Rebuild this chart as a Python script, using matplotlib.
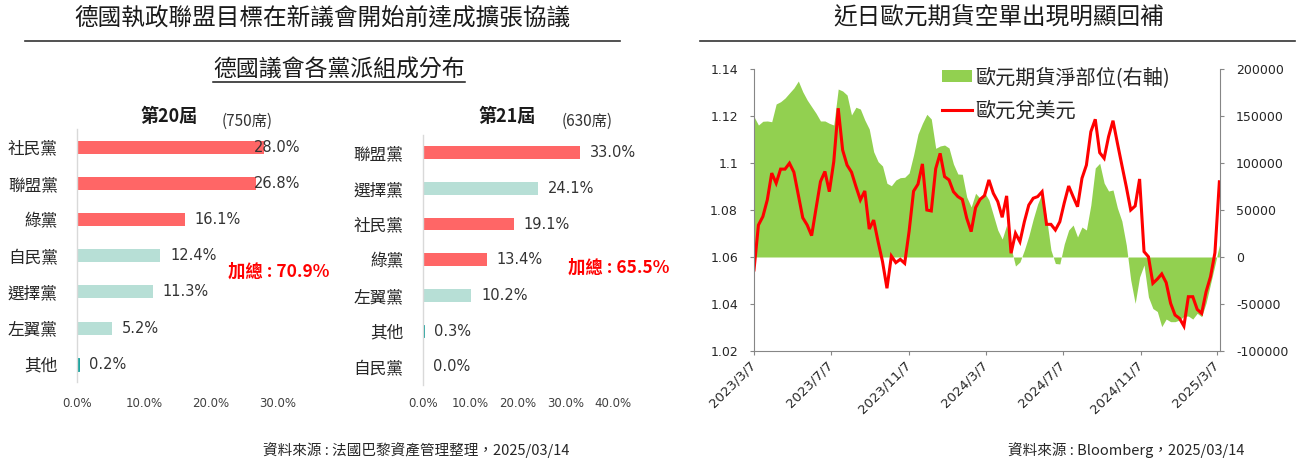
import matplotlib
matplotlib.use('Agg')
import matplotlib.pyplot as plt
from matplotlib.lines import Line2D
from matplotlib.patches import Patch
import numpy as np
import pandas as pd

plt.rcParams['font.family'] = ['Noto Sans CJK TC', 'DejaVu Sans']
NUM = 'DejaVu Sans'

# ---------------- data ----------------
title_left = '德國執政聯盟目標在新議會開始前達成擴張協議'
subtitle_left = '德國議會各黨派組成分布'
title_right = '近日歐元期貨空單出現明顯回補'
source_left = '資料來源 : 法國巴黎資產管理整理，2025/03/14'
source_right = '資料來源 : Bloomberg，2025/03/14'

term_20 = '第20屆'
seats_20 = '(750席)'
parties_20 = ['社民黨', '聯盟黨', '綠黨', '自民黨', '選擇黨', '左翼黨', '其他']
share_20 = [28.0, 26.8, 16.1, 12.4, 11.3, 5.2, 0.2]
highlight_20 = ['社民黨', '聯盟黨', '綠黨']

term_21 = '第21屆'
seats_21 = '(630席)'
parties_21 = ['聯盟黨', '選擇黨', '社民黨', '綠黨', '左翼黨', '其他', '自民黨']
share_21 = [33.0, 24.1, 19.1, 13.4, 10.2, 0.3, 0.0]
highlight_21 = ['聯盟黨', '社民黨', '綠黨']

ticks_20 = [0, 10, 20, 30]
ticks_21 = [0, 10, 20, 30, 40]

dates = pd.date_range('2023-03-07', periods=106, freq='7D')
eurusd = [
    1.0545, 1.0736, 1.0772, 1.0843, 1.0957, 1.0914, 1.0974, 1.0974, 1.0999, 1.0961,
    1.0864, 1.0767, 1.0736, 1.0691, 1.0807, 1.0921, 1.0964, 1.0878, 1.1006, 1.1233,
    1.1055, 1.0991, 1.0961, 1.0900, 1.0843, 1.0881, 1.0719, 1.0757, 1.0665, 1.0580,
    1.0467, 1.0604, 1.0576, 1.0590, 1.0573, 1.0710, 1.0880, 1.0910, 1.0996, 1.0800,
    1.0796, 1.0976, 1.1041, 1.0942, 1.0928, 1.0878, 1.0857, 1.0845, 1.0765, 1.0708,
    1.0810, 1.0845, 1.0861, 1.0928, 1.0871, 1.0836, 1.0769, 1.0860, 1.0616, 1.0701,
    1.0665, 1.0750, 1.0821, 1.0850, 1.0857, 1.0878, 1.0739, 1.0739, 1.0715, 1.0750,
    1.0830, 1.0902, 1.0857, 1.0814, 1.0935, 1.0991, 1.1133, 1.1186, 1.1044, 1.1020,
    1.1112, 1.1180, 1.1084, 1.0991, 1.0899, 1.0800, 1.0817, 1.0932, 1.0623, 1.0601,
    1.0488, 1.0506, 1.0528, 1.0491, 1.0403, 1.0353, 1.0339, 1.0306, 1.0431, 1.0431,
    1.0377, 1.0360, 1.0452, 1.0516, 1.0618, 1.0920,
]
net_pos = [
    149300, 140400, 144400, 144700, 143900, 162800, 165200, 169100, 174500, 179800,
    187200, 175800, 167000, 159900, 152900, 144700, 144700, 142200, 140400, 178700,
    176600, 172300, 151100, 159300, 157400, 145700, 136200, 112000, 101400, 96800,
    78400, 75800, 81900, 84400, 84800, 89400, 108500, 130800, 142200, 151800,
    146800, 115600, 118100, 119100, 116000, 98900, 88300, 88000, 63800, 53200,
    67800, 62600, 68800, 60600, 44700, 28700, 19100, 34000, 9600, -9600,
    -5300, 7400, 22300, 40400, 56400, 67800, 41500, 7400, -6900, -7400,
    13800, 28700, 34000, 21300, 31900, 28700, 55300, 94700, 99700, 78700,
    70200, 71300, 52100, 38300, 12800, -24500, -49300, -21300, -8500, -42600,
    -54800, -58000, -74100, -66000, -68800, -68800, -67000, -63100, -62800, -66000,
    -59900, -63500, -48900, -28700, -8500, 12800,
]
legend_labels = ['歐元期貨淨部位(右軸)', '歐元兌美元']
date_ticks = pd.to_datetime(['2023-03-07', '2023-07-07', '2023-11-07', '2024-03-07',
                             '2024-07-07', '2024-11-07', '2025-03-07'])
fx_ticks = [1.02, 1.04, 1.06, 1.08, 1.10, 1.12, 1.14]
pos_ticks = [-100000, -50000, 0, 50000, 100000, 150000, 200000]

# ---------------- styles ----------------
RED_BAR = '#FF6666'
TEAL_BAR = '#B7DFD6'
TEAL_DARK = '#1CA39E'
GREEN = '#92D050'
RED = '#FF0000'
AXIS_GRAY = '#868686'
TXT = '#262626'

W, H = 1303, 465
fig = plt.figure(figsize=(W / 100, H / 100), dpi=100)


def px_axes(l, t, r, b):
    return fig.add_axes([l / W, 1 - b / H, (r - l) / W, (b - t) / H])


def fy(y):
    return 1 - y / H


renderer = fig.canvas.get_renderer()

# ---------------- titles ----------------
fig.text(322 / W, fy(18), title_left, ha='center', va='center', fontsize=17,
         fontweight='medium', color='#1a1a1a')
fig.add_artist(Line2D([25 / W, 620 / W], [fy(40.7)] * 2, color='#333333', lw=1.2))
fig.text(999 / W, fy(17), title_right, ha='center', va='center', fontsize=17,
         fontweight='medium', color='#1a1a1a')
fig.add_artist(Line2D([700 / W, 1295 / W], [fy(40.7)] * 2, color='#333333', lw=1.2))

st = fig.text(339 / W, fy(70), subtitle_left, ha='center', va='center', fontsize=16.5,
              fontweight='medium', color='#1a1a1a')
bb = st.get_window_extent(renderer)
fig.add_artist(Line2D([bb.x0 / W, bb.x1 / W], [fy(82)] * 2, color='#1a1a1a', lw=1.1))


# ---------------- bar panels ----------------
def bar_panel(box, cats, vals, hl, xmax, ticks, tick_pad, term, seats, term_xy, seats_xy, total_xy):
    ax = px_axes(*box)
    y = np.arange(len(cats))
    cols = []
    for c in cats:
        if c in hl:
            cols.append(RED_BAR)
        elif c == '其他':
            cols.append(TEAL_DARK)
        else:
            cols.append(TEAL_BAR)
    bars = ax.barh(y, vals, height=0.36, color=cols, edgecolor='none')
    for c, b, col in zip(cats, bars, cols):
        if c == '其他':
            b.set_edgecolor(col)
            b.set_linewidth(0.7)
    ax.set_ylim(len(cats) - 0.5, -0.5)
    ax.set_xlim(0, xmax)
    ax.set_yticks(y)
    ax.set_yticklabels(cats, fontsize=12, color=TXT, fontweight='medium')
    ax.tick_params(axis='y', length=0, pad=14)
    ax.set_xticks(ticks)
    ax.set_xticklabels([f'{t:.1f}%' for t in ticks], fontsize=8.5, color='#404040', family=NUM)
    ax.tick_params(axis='x', length=0, pad=tick_pad)
    for s in ['top', 'right', 'bottom']:
        ax.spines[s].set_visible(False)
    ax.spines['left'].set_color('#d9d9d9')
    ax.spines['left'].set_linewidth(1.0)
    axbb = ax.get_window_extent(renderer)
    for i, v in enumerate(vals):
        t = ax.annotate(f'{v:.1f}%', xy=(v, i), xytext=(7.2, 0), textcoords='offset points',
                        ha='left', va='center', fontsize=10.5, color='#333333', family=NUM,
                        annotation_clip=False)
        tb = t.get_window_extent(renderer)
        if tb.x1 > axbb.x1 + 0.5:
            t.remove()
            ax.annotate(f'{v:.1f}%', xy=(xmax, i), xytext=(0, 0), textcoords='offset points',
                        ha='right', va='center', fontsize=10.5, color='#333333', family=NUM,
                        annotation_clip=False)
    total = sum(v for c, v in zip(cats, vals) if c in hl)
    fig.text(total_xy[0] / W, fy(total_xy[1]), f'加總 : {total:.1f}%', ha='left', va='center',
             fontsize=12.5, fontweight='bold', color=RED)
    fig.text(term_xy[0] / W, fy(term_xy[1]), term, ha='center', va='center', fontsize=13,
             fontweight='bold', color='#1a1a1a')
    fig.text(seats_xy[0] / W, fy(seats_xy[1]), seats, ha='center', va='center', fontsize=11,
             color='#333333')
    return ax


bar_panel((77.3, 129.2, 300, 382.4), parties_20, share_20, highlight_20, 33.4, ticks_20, 10.5,
          term_20, seats_20, (169, 116.7), (247, 121.5), (227.7, 271.7))
bar_panel((422.7, 134.9, 642, 384.5), parties_21, share_21, highlight_21, 46, ticks_21, 9,
          term_21, seats_21, (507, 116.7), (587, 121.5), (567.7, 268))

# ---------------- line chart ----------------
ax_l = px_axes(754, 69, 1220, 351)
ax_r = ax_l.twinx()
ax_r.fill_between(dates, 0, net_pos, color=GREEN, lw=0)
ax_l.plot(dates, eurusd, color=RED, lw=2.2, solid_joinstyle='miter')
ax_l.set_zorder(ax_r.get_zorder() + 1)
ax_l.patch.set_visible(False)

ax_l.set_xlim(pd.Timestamp('2023-03-07'), pd.Timestamp('2025-03-12'))
ax_l.set_ylim(1.02, 1.14)
ax_r.set_ylim(-100000, 200000)

ax_l.set_yticks(fx_ticks)
ax_l.set_yticklabels([f'{v:g}' for v in fx_ticks], family=NUM, fontsize=9, color=TXT)
ax_r.set_yticks(pos_ticks)
ax_r.set_yticklabels([f'{v:d}' for v in pos_ticks], family=NUM, fontsize=9, color=TXT)
ax_l.set_xticks(date_ticks)
ax_l.set_xticklabels([f'{d.year}/{d.month}/{d.day}' for d in date_ticks], family=NUM,
                     fontsize=9.5, color=TXT, rotation=45, ha='right', va='center',
                     rotation_mode='anchor')

ax_l.tick_params(axis='y', direction='out', length=3, color=AXIS_GRAY, pad=8.5)
ax_l.tick_params(axis='x', direction='out', length=3, color=AXIS_GRAY, pad=6)
ax_r.tick_params(axis='y', direction='out', length=3, color=AXIS_GRAY, pad=8.5)

for s in ['top', 'right']:
    ax_l.spines[s].set_visible(False)
for s in ['top', 'left', 'bottom']:
    ax_r.spines[s].set_visible(False)
ax_l.spines['left'].set_color(AXIS_GRAY)
ax_l.spines['bottom'].set_color(AXIS_GRAY)
ax_r.spines['right'].set_color(AXIS_GRAY)

handles = [Patch(facecolor=GREEN, edgecolor='none'), Line2D([], [], color=RED, lw=2.2)]
ax_l.legend(handles, legend_labels, loc='upper left', bbox_to_anchor=(941.7 / W, fy(67)),
            bbox_transform=fig.transFigure, frameon=False, fontsize=14.5, handlelength=1.5,
            handleheight=0.6, handletextpad=0.15, labelspacing=0.62, borderpad=0,
            borderaxespad=0, labelcolor=TXT)

# ---------------- sources ----------------
fig.text(416 / W, fy(450), source_left, ha='center', va='center', fontsize=10.5, color=TXT)
fig.text(1126 / W, fy(450), source_right, ha='center', va='center', fontsize=10.5, color=TXT)

fig.savefig('out.png', dpi=100)
